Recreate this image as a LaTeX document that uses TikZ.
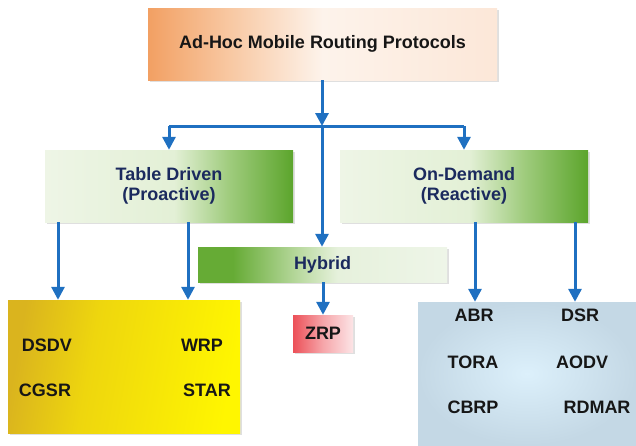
\documentclass[tikz,border=0pt]{standalone}
\usepackage{fontspec}
\setmainfont{Liberation Sans}
\usetikzlibrary{arrows.meta,shadows}
\definecolor{arrblue}{HTML}{1F70C1}
\definecolor{navy}{HTML}{1B2A5E}
\definecolor{txtblack}{HTML}{161616}
\definecolor{topA}{RGB}{242,160,99}
\definecolor{topB}{RGB}{248,201,164}
\definecolor{topC}{RGB}{253,243,235}
\definecolor{topD}{RGB}{252,231,216}
\definecolor{tdA}{RGB}{238,245,230}
\definecolor{tdB}{RGB}{227,240,214}
\definecolor{tdC}{RGB}{160,204,126}
\definecolor{tdD}{RGB}{92,165,44}
\definecolor{hyA}{RGB}{102,171,53}
\definecolor{hyB}{RGB}{190,220,166}
\definecolor{hyC}{RGB}{230,241,220}
\definecolor{hyD}{RGB}{238,245,232}
\definecolor{zrA}{RGB}{236,80,88}
\definecolor{zrB}{RGB}{246,166,170}
\definecolor{zrC}{RGB}{252,228,230}
\definecolor{yeA}{RGB}{218,180,30}
\definecolor{yeB}{RGB}{238,214,14}
\definecolor{yeC}{RGB}{255,246,0}
\definecolor{bluein}{HTML}{DCF0FB}
\definecolor{blueout}{HTML}{C4D8E5}
\pgfdeclarehorizontalshading{topshade}{100bp}{color(0bp)=(topA); color(25bp)=(topA); color(37bp)=(topB); color(50bp)=(topC); color(75bp)=(topD); color(100bp)=(topD)}
\pgfdeclarehorizontalshading{tdshade}{100bp}{color(0bp)=(tdA); color(25bp)=(tdA); color(51bp)=(tdB); color(62bp)=(tdC); color(75bp)=(tdD); color(100bp)=(tdD)}
\pgfdeclarehorizontalshading{hyshade}{100bp}{color(0bp)=(hyA); color(25bp)=(hyA); color(32bp)=(hyA); color(46bp)=(hyB); color(53bp)=(hyC); color(75bp)=(hyD); color(100bp)=(hyD)}
\pgfdeclarehorizontalshading{zrpshade}{100bp}{color(0bp)=(zrA); color(25bp)=(zrA); color(50bp)=(zrB); color(75bp)=(zrC); color(100bp)=(zrC)}
\pgfdeclarehorizontalshading{yelshade}{100bp}{color(0bp)=(yeA); color(25bp)=(yeA); color(42bp)=(yeB); color(75bp)=(yeC); color(100bp)=(yeC)}
\tikzset{
  box/.style={rectangle, inner sep=0pt, align=center,
    drop shadow={shadow xshift=1.5pt, shadow yshift=-1.5pt, opacity=0.25, fill=gray}},
  lbl/.style={font=\fontsize{18}{20}\selectfont\bfseries},
  arr/.style={draw=arrblue, line width=3pt, -{Triangle[width=13pt,length=13pt]}},
  ln/.style={draw=arrblue, line width=3pt},
  item/.style={lbl, text=txtblack, inner sep=0pt}
}
\begin{document}
\begin{tikzpicture}[x=1pt,y=-1pt]
\useasboundingbox (0,0) rectangle (636,445);
% boxes
\node[box, shading=topshade, minimum width=349pt, minimum height=72pt, lbl, text=txtblack] (top) at (322.5,44) {Ad-Hoc Mobile Routing Protocols};
\node[box, shading=tdshade, minimum width=248pt, minimum height=72pt, lbl, text=navy] (td) at (169,186) {Table Driven\\(Proactive)};
\node[box, shading=tdshade, minimum width=248pt, minimum height=72pt, lbl, text=navy] (od) at (464,186) {On-Demand\\(Reactive)};
\node[box, shading=hyshade, minimum width=249pt, minimum height=35pt, lbl, text=navy] (hy) at (322.5,264.5) {Hybrid};
\node[box, shading=zrpshade, minimum width=60pt, minimum height=37pt, lbl, text=txtblack] (zrp) at (323,333.5) {ZRP};
\node[box, shading=yelshade, shading angle=-10, minimum width=232pt, minimum height=133pt] (yel) at (124,366.5) {};
\node[box, inner color=bluein, outer color=blueout, minimum width=218pt, minimum height=143pt] (blu) at (527,373.5) {};
% items
\node[item] (dsdv) at (47,345) {DSDV};
\node[item] (wrp) at (202,345) {WRP};
\node[item] (cgsr) at (45,390) {CGSR};
\node[item] (star) at (207,390) {STAR};
\node[item] (abr) at (474,315) {ABR};
\node[item] (dsr) at (580,315) {DSR};
\node[item] (tora) at (473,362) {TORA};
\node[item] (aodv) at (582,362) {AODV};
\node[item] (cbrp) at (473,407) {CBRP};
\node[item] (rdmar) at (597,407) {RDMAR};
% connectors
\coordinate (j) at (322,126);
\coordinate (c1) at (58,0);
\coordinate (c2) at (188,0);
\coordinate (c3) at (475,0);
\coordinate (c4) at (575,0);
\draw[ln] (td.north |- j) -- (od.north |- j);
\draw[arr] (top.south -| j) -- (j);
\draw[arr] (j) -- (hy.north -| j);
\draw[arr] (td.north |- j) -- (td.north);
\draw[arr] (od.north |- j) -- (od.north);
\draw[arr] (td.south -| c1) -- (yel.north -| c1);
\draw[arr] (td.south -| c2) -- (yel.north -| c2);
\draw[arr] (od.south -| c3) -- (blu.north -| c3);
\draw[arr] (od.south -| c4) -- (blu.north -| c4);
\draw[arr] (hy.south -| zrp.north) -- (zrp.north);
\end{tikzpicture}
\end{document}
